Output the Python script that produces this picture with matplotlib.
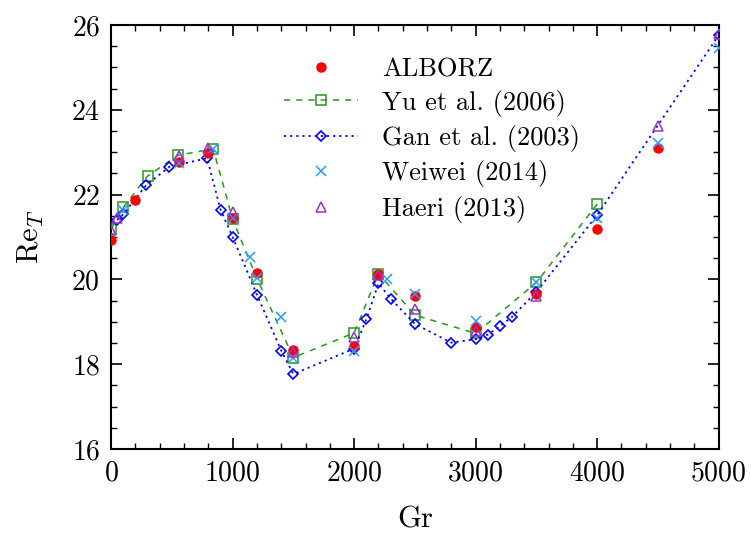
import matplotlib
matplotlib.use('Agg')
import matplotlib.pyplot as plt
from matplotlib.ticker import MultipleLocator

plt.rcParams['font.family'] = 'serif'
plt.rcParams['font.serif'] = ['cmr10']
plt.rcParams['mathtext.fontset'] = 'cm'
plt.rcParams['axes.formatter.use_mathtext'] = True

# data
alborz_gr = [0, 200, 560, 800, 1000, 1200, 1500, 2000, 2200, 2500, 3000, 3500, 4000, 4500]
alborz_re = [20.93, 21.87, 22.76, 22.99, 21.45, 20.16, 18.33, 18.44, 20.13, 19.60, 18.88, 19.65, 21.19, 23.11]

yu_gr = [0, 100, 300, 550, 840, 1000, 1200, 1500, 2000, 2200, 2500, 3000, 3500, 4000]
yu_re = [21.19, 21.70, 22.44, 22.93, 23.08, 21.42, 20.02, 18.16, 18.74, 20.14, 19.16, 18.73, 19.93, 21.78]

gan_gr = [50, 100, 290, 480, 790, 900, 1000, 1200, 1400, 1500, 2000, 2100, 2200, 2300,
          2500, 2800, 3000, 3100, 3200, 3300, 3500, 4000, 5000]
gan_re = [21.40, 21.54, 22.23, 22.66, 22.86, 21.65, 21.00, 19.64, 18.32, 17.77, 18.37, 19.06, 19.91, 19.55,
          18.95, 18.51, 18.59, 18.70, 18.90, 19.12, 19.71, 21.52, 25.76]

wei_gr = [100, 560, 840, 1000, 1140, 1200, 1400, 1500, 2000, 2270, 2500, 3000, 3500, 4000, 4500, 5000]
wei_re = [21.65, 22.74, 23.07, 21.44, 20.52, 20.03, 19.12, 18.15, 18.32, 20.00, 19.65, 19.03, 19.93, 21.44, 23.23, 25.45]

haeri_gr = [0, 50, 560, 800, 1000, 1500, 2000, 2200, 2500, 3000, 3500, 4500, 5000]
haeri_re = [21.17, 21.46, 22.91, 23.09, 21.60, 18.30, 18.65, 20.10, 19.30, 18.79, 19.60, 23.62, 25.78]

fig = plt.figure(figsize=(7.51, 5.34), dpi=100)
ax = fig.add_axes([0.148, 0.159, 0.809, 0.794])

ax.plot(alborz_gr, alborz_re, 'o', color='#ff0000', ms=6.5, label='ALBORZ', zorder=5)
ax.plot(yu_gr, yu_re, linestyle=(0, (4, 4)), color='#229922', lw=1.1, marker='s', ms=7,
        mfc='none', mec='#229922', mew=1.1, label='Yu et al. (2006)', zorder=3)
ax.plot(gan_gr, gan_re, linestyle=(0, (1.2, 2.2)), color='#0000ff', lw=1.3, marker='D', ms=5,
        mfc='none', mec='#0000ff', mew=1.2, label='Gan et al. (2003)', zorder=4)
ax.plot(wei_gr, wei_re, 'x', color='#2b9cff', ms=7, mew=1.1, label='Weiwei (2014)', zorder=6)
ax.plot(haeri_gr, haeri_re, '^', color='#9933cc', ms=7, mfc='none', mew=1.1,
        label='Haeri (2013)', zorder=6)

ax.set_xlim(0, 5000)
ax.set_ylim(16, 26)
ax.xaxis.set_major_locator(MultipleLocator(1000))
ax.xaxis.set_minor_locator(MultipleLocator(200))
ax.yaxis.set_major_locator(MultipleLocator(2))
ax.yaxis.set_minor_locator(MultipleLocator(0.5))
ax.tick_params(which='both', direction='in', top=True, right=True, labelsize=20, pad=8)
ax.tick_params(which='major', length=8, width=1.2)
ax.tick_params(which='minor', length=4, width=1.0)
for s in ax.spines.values():
    s.set_linewidth(1.5)

ax.set_xlabel('Gr', fontsize=22, labelpad=14)
ax.set_ylabel(r'$\mathrm{Re}_T$', fontsize=22, labelpad=18)

ax.legend(loc='upper left', bbox_to_anchor=(0.246, 0.98), frameon=False, fontsize=19,
          numpoints=1, handlelength=2.8, handletextpad=0.9, labelspacing=0.32)

fig.savefig('out.png', dpi=100)
